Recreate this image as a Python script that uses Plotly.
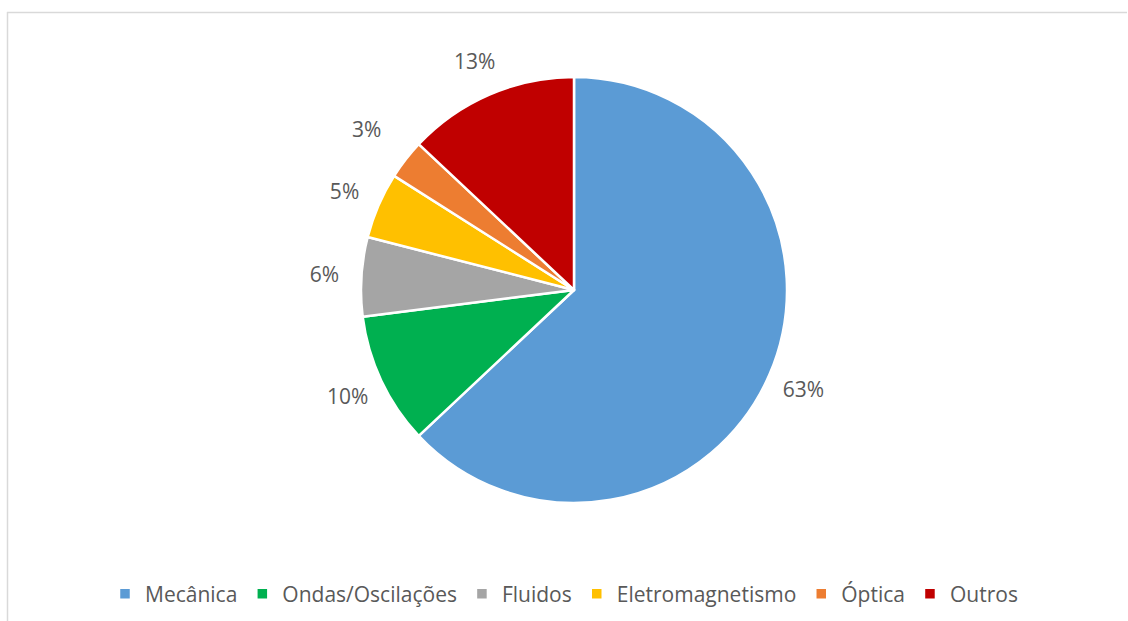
import plotly.graph_objects as go

# Share of topics by area (percent)
categories = ["Mecânica", "Ondas/Oscilações", "Fluidos", "Eletromagnetismo", "Óptica", "Outros"]
shares = [63, 10, 6, 5, 3, 13]
slice_colors = ["#5B9BD5", "#00B050", "#A5A5A5", "#FFC000", "#ED7D31", "#C00000"]

W, H = 1128, 621
cx, cy = 574, 290
r_pie = 213      # radius of the visible pie
r_ring = 287     # outer radius of the invisible label ring

FONT = "Open Sans, Lato, sans-serif"
TEXT_COLOR = "#595959"


def domain(radius):
    return dict(
        x=[(cx - radius) / W, (cx + radius) / W],
        y=[1 - (cy + radius) / H, 1 - (cy - radius) / H],
    )


fig = go.Figure()

# Visible pie
fig.add_trace(
    go.Pie(
        labels=categories,
        values=shares,
        sort=False,
        direction="clockwise",
        rotation=0,
        marker=dict(colors=slice_colors, line=dict(color="white", width=2.5)),
        textinfo="none",
        hoverinfo="label+percent",
        domain=domain(r_pie),
        automargin=False,
    )
)

# Transparent ring around the pie carrying the percentage labels
fig.add_trace(
    go.Pie(
        labels=categories,
        values=shares,
        sort=False,
        direction="clockwise",
        rotation=0,
        hole=r_pie / r_ring,
        marker=dict(colors=["rgba(0,0,0,0)"] * len(shares), line=dict(width=0)),
        texttemplate="%{value}%",
        textposition="inside",
        insidetextorientation="horizontal",
        textfont=dict(family=FONT, size=21, color=TEXT_COLOR),
        hoverinfo="skip",
        showlegend=False,
        domain=domain(r_ring),
        automargin=False,
    )
)

fig.update_layout(
    width=W,
    height=H,
    margin=dict(l=0, r=0, t=0, b=0),
    paper_bgcolor="white",
    plot_bgcolor="white",
    showlegend=True,
    legend=dict(
        orientation="h",
        x=0.5,
        xanchor="center",
        y=1 - 594 / H,
        yanchor="middle",
        font=dict(family=FONT, size=21, color=TEXT_COLOR),
        itemwidth=30,
        traceorder="normal",
    ),
    shapes=[
        dict(type="line", xref="paper", yref="paper", x0=7 / W, x1=1127 / W,
             y0=1 - 12.5 / H, y1=1 - 12.5 / H, line=dict(color="#D9D9D9", width=1.5)),
        dict(type="line", xref="paper", yref="paper", x0=7.5 / W, x1=7.5 / W,
             y0=0, y1=1 - 12 / H, line=dict(color="#D9D9D9", width=1.5)),
    ],
)

fig.write_html("out.html")
